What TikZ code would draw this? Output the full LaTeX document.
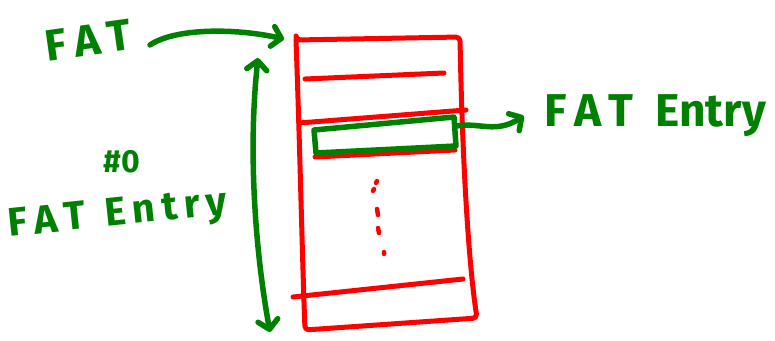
\documentclass[tikz,border=0pt]{standalone}
\usepackage{fontspec}
\setmainfont{Fira Sans}
\usetikzlibrary{arrows.meta}
\definecolor{fatgreen}{RGB}{0,128,0}
\begin{document}
\begin{tikzpicture}[x=1pt,y=-1pt,
  redline/.style={draw=red, line width=5pt, line cap=round, line join=round},
  grnline/.style={draw=fatgreen, line width=5.5pt, line cap=round, line join=round},
  hand/.style={text=fatgreen, inner sep=0pt, font=\bfseries},
  barb/.tip={Straight Barb[length=9pt,width=20pt,line cap=round,line join=round]},
  grnarrow/.style={grnline, -barb},
  grnbiarrow/.style={grnline, barb-barb}]
\useasboundingbox (0,0) rectangle (775,340);
% red table
\draw[redline, rounded corners=4pt] (296,40) -- (460,37) .. controls (462,150) and (468,260) .. (477,318) -- (305,330) .. controls (302,250) and (300,150) .. cycle;
\draw[redline] (305,79) -- (444,73);
\draw[redline] (299,123) -- (466,110);
\draw[redline] (315,157) -- (455,150);
\draw[redline] (293,297) -- (463,279);
\draw[redline, line width=4.5pt] (377,181) -- (376,183) (374,189) -- (373,191) (377,209) -- (378,215) (378,228) -- (379,233) (384,252) -- (384,254);
% green entry box
\draw[grnline] (314,130) -- (454,117) -- (456,146) -- (316,153) -- cycle;
\coordinate (gbox) at (456,126);
\coordinate (boxtl) at (284,39);
\coordinate (sizetop) at (258,58);
\coordinate (sizebot) at (270,332);
% labels
\node[hand, font=\bfseries\fontsize{44}{48}\selectfont, rotate=8] (fatlbl) at (88,40) {F\,A\,T};
\node[hand, font=\bfseries\fontsize{46}{50}\selectfont] (entryr) at (655,116) {F\,A\,T\ \ Entry};
\node[hand, font=\bfseries\fontsize{32}{36}\selectfont] (idxlbl) at (122,162) {\#0};
\node[hand, font=\bfseries\fontsize{40}{44}\selectfont, rotate=6] (entryl) at (118,216) {F\,A\,T\ \ E\,n\,t\,r\,y};
% connectors
\draw[grnarrow] (150,45) .. controls (175,28) and (235,28) .. (boxtl);
\draw[grnbiarrow] (sizetop) .. controls (248,150) and (255,250) .. (sizebot);
\draw[grnarrow] (gbox) .. controls (480,122) and (495,134) .. ([xshift=-20pt]entryr.west);
\end{tikzpicture}
\end{document}
